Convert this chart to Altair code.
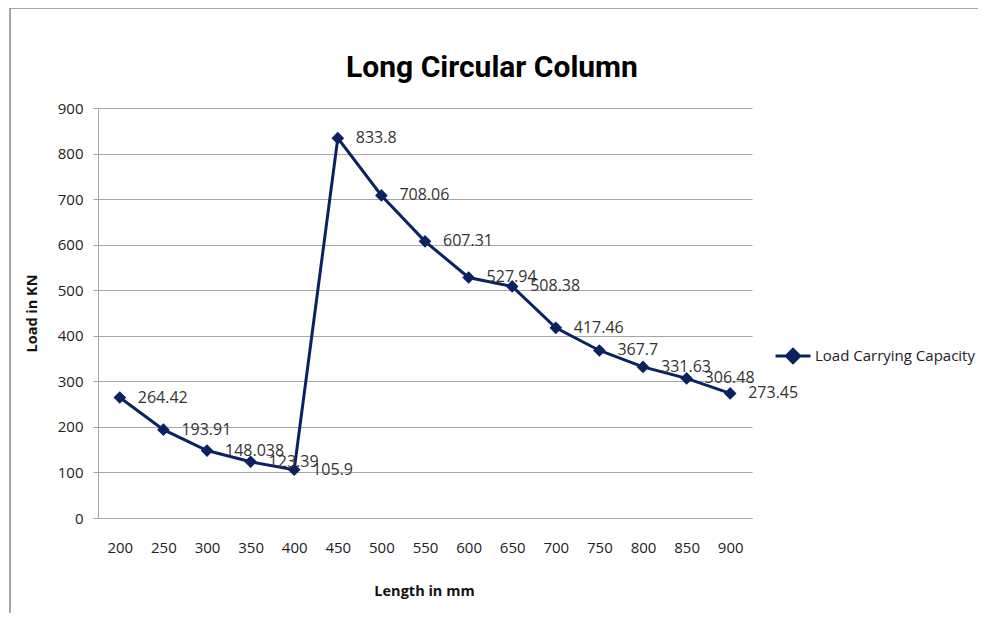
import altair as alt
import pandas as pd

lengths = ["200", "250", "300", "350", "400", "450", "500", "550", "600", "650", "700", "750", "800", "850", "900"]
loads = [264.42, 193.91, 148.038, 123.39, 105.9, 833.8, 708.06, 607.31, 527.94, 508.38, 417.46, 367.7, 331.63, 306.48, 273.45]
series_name = "Load Carrying Capacity"
chart_title = "Long Circular Column"

df = pd.DataFrame({
    "length": lengths,
    "load": loads,
    "label": [str(v) for v in loads],
    "series": [series_name] * len(lengths),
})

NAVY = "#0b2262"
FONT = "Open Sans"
TITLE_FONT = "Roboto"

x_enc = alt.X("length:N", sort=lengths,
              scale=alt.Scale(type="point", padding=0.5),
              axis=alt.Axis(title="Length in mm", labelAngle=0, tickSize=0,
                            labelPadding=22, labelFontSize=15, labelColor="#222",
                            labelFont=FONT, titleFont=FONT,
                            titleFontSize=14.5, titleFontWeight="bold", titleColor="#111",
                            titleX=326, titleY=73, titleBaseline="middle",
                            domainColor="#a6a6a6", grid=False))
y_enc = alt.Y("load:Q", scale=alt.Scale(domain=[0, 900], nice=False),
              axis=alt.Axis(title="Load  in KN", values=list(range(0, 1000, 100)),
                            tickSize=5, tickColor="#a6a6a6", labelPadding=10,
                            labelFontSize=15, labelColor="#222",
                            labelFont=FONT, titleFont=FONT,
                            titleFontSize=14.5, titleFontWeight="bold", titleColor="#111",
                            titleX=-66, titleY=205, titleAngle=270, titleBaseline="middle",
                            domainColor="#a6a6a6", gridColor="#a6a6a6"))

base = alt.Chart(df)

line = base.mark_line(strokeWidth=3).encode(
    x=x_enc, y=y_enc,
    color=alt.Color("series:N", scale=alt.Scale(range=[NAVY]),
                    legend=alt.Legend(title=None, orient="none", legendX=676, legendY=229,
                                      symbolType="M-1,0L1,0M0,-0.38L0.38,0L0,0.38L-0.38,0Z",
                                      symbolSize=1225, symbolStrokeWidth=3,
                                      symbolFillColor=NAVY, symbolStrokeColor=NAVY,
                                      labelFont=FONT, labelFontSize=15, labelColor="#222",
                                      labelOffset=3)),
)
points = base.mark_point(shape="diamond", filled=True, size=160, opacity=1, color=NAVY).encode(
    x=x_enc, y=y_enc)
labels = base.mark_text(align="left", baseline="middle", dx=18, fontSize=16,
                        color="#333", font=FONT).encode(
    x=x_enc, y=y_enc, text="label:N")

frame_df = pd.DataFrame({"title": [chart_title]})
left_rule = alt.Chart(frame_df).mark_rule(color="#888", strokeWidth=1.5).encode(
    x=alt.value(-88), y=alt.value(-100), y2=alt.value(505))
top_rule = alt.Chart(frame_df).mark_rule(color="#888", strokeWidth=1.5).encode(
    x=alt.value(-88), x2=alt.value(890), y=alt.value(-100))
title_text = alt.Chart(frame_df).mark_text(
    font=TITLE_FONT, fontSize=30, fontWeight="bold", color="#000",
    align="center", baseline="alphabetic").encode(
    x=alt.value(394), y=alt.value(-31), text="title:N")

chart = alt.layer(left_rule, top_rule, title_text, line, points, labels).properties(
    width=654, height=410,
    autosize=alt.AutoSizeParams(type="none"),
    padding={"left": 90, "top": 100, "right": 226, "bottom": 95},
).configure(font=FONT).configure_view(stroke=None)

chart.save("out.html", embed_options={"renderer": "svg", "actions": False})
